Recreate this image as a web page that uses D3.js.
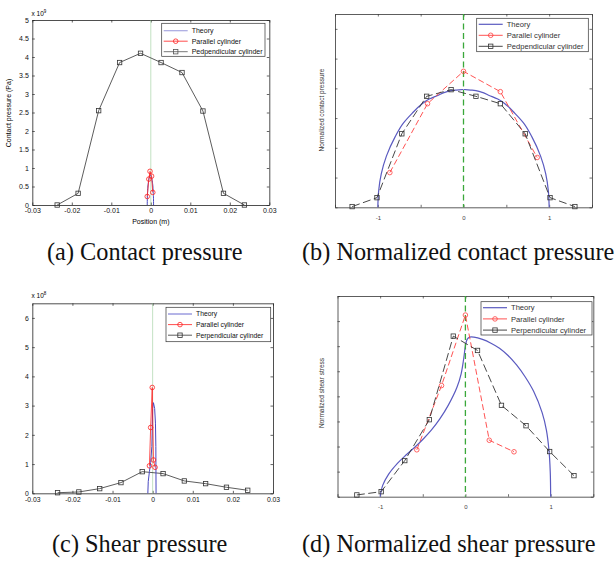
<!DOCTYPE html>
<html>
<head>
<meta charset="utf-8">
<script src="https://cdn.jsdelivr.net/npm/d3@7"></script>
<style>
  body { margin: 0; background: #fff; }
  text { font-family: "Liberation Sans", Arial, sans-serif; }
</style>
</head>
<body>
<svg id="fig" width="615" height="561"></svg>
<script>
/* ---- donnees ---- */
// (a) pression de contact, x en m, y en 1e9 Pa
var posPerp = [-0.0237, -0.0184, -0.0132, -0.0079, -0.0026, 0.0026, 0.0079, 0.0132, 0.0184, 0.0237];
var contactPerp = [0, 0.315, 2.55, 3.85, 4.10, 3.85, 3.58, 2.54, 0.315, 0];
var posPar = [-0.0009, -0.0005, -0.0002, 0.0002, 0.0005];
var contactPar = [0.23, 0.70, 0.91, 0.78, 0.34];
var thPosA = [-0.0009, -0.00088, -0.0008, -0.0006, -0.0004, -0.0001, 0.0002, 0.0004, 0.0006, 0.00068, 0.0007];
var thContactA = [0, 0.17, 0.39, 0.62, 0.74, 0.80, 0.74, 0.62, 0.39, 0.17, 0];

// (b) pression de contact normalisee
var normPerpX = [-1.30, -1.01, -0.72, -0.43, -0.145, 0.145, 0.43, 0.72, 1.01, 1.30];
var normPerpY = [0.006, 0.081, 0.618, 0.933, 0.989, 0.933, 0.871, 0.618, 0.081, 0.006];
var normParX = [-0.86, -0.42, 0, 0.43, 0.86];
var normParY = [0.292, 0.871, 1.143, 0.972, 0.419];
var thNormX = [-1, -0.99, -0.96, -0.9, -0.8, -0.7, -0.6, -0.5, -0.4, -0.3, -0.2, -0.1, 0, 0.1, 0.2, 0.3, 0.4, 0.5, 0.6, 0.7, 0.8, 0.9, 0.96, 0.99, 1];
var thNormY = [0, 0.14, 0.28, 0.43, 0.59, 0.71, 0.79, 0.86, 0.91, 0.94, 0.97, 0.985, 0.99, 0.985, 0.97, 0.94, 0.91, 0.86, 0.79, 0.71, 0.59, 0.43, 0.28, 0.14, 0];

// (c) pression de cisaillement, y en 1e8 Pa
var shearPerp = [0.02, 0.046, 0.16, 0.366, 0.74, 0.674, 0.423, 0.331, 0.206, 0.103];
var posParC = [-0.0008, -0.0005, -0.0001, 0.0002, 0.0006];
var shearPar = [0.94, 2.25, 3.62, 1.14, 0.89];
var thPosC = [-0.0012, -0.0011, -0.0008, -0.0005, -0.0002, 0, 0.0002, 0.0005, 0.0007, 0.0008, 0.00085];
var thShearC = [0, 0.4, 0.75, 1.05, 1.6, 2.9, 3.1, 2.9, 2.4, 1.6, 0];

// (d) cisaillement normalise
var nsPerpX = [-1.273, -0.988, -0.711, -0.423, -0.142, 0.142, 0.423, 0.711, 0.988, 1.273];
var nsPerpY = [0.007, 0.02, 0.144, 0.307, 0.64, 0.583, 0.364, 0.283, 0.18, 0.084];
var nsParX = [-0.57, -0.28, 0, 0.28, 0.57];
var nsParY = [0.187, 0.443, 0.724, 0.225, 0.179];
var thShearX = [-1, -0.97, -0.9, -0.8, -0.7, -0.6, -0.5, -0.4, -0.3, -0.2, -0.1, -0.05, -0.02, 0, 0.02, 0.05, 0.1, 0.2, 0.3, 0.4, 0.5, 0.6, 0.7, 0.8, 0.9, 0.95, 0.98, 0.995, 1];
var thShearY = [0, 0.045, 0.09, 0.132, 0.165, 0.195, 0.228, 0.265, 0.31, 0.365, 0.435, 0.49, 0.55, 0.6, 0.627, 0.636, 0.636, 0.627, 0.612, 0.592, 0.563, 0.525, 0.478, 0.42, 0.335, 0.265, 0.185, 0.1, 0];

// graduations
var posTicks = [-0.03, -0.02, -0.01, 0, 0.01, 0.02, 0.03];
var contactTicks = [0, 0.5, 1, 1.5, 2, 2.5, 3, 3.5, 4, 4.5, 5];
var shearTicks = [0, 1, 2, 3, 4, 5, 6];
var normXTicks = [-1.5, -1, -0.5, 0, 0.5, 1, 1.5];
var normYTicks = [0, 0.25, 0.5, 0.75, 1, 1.25, 1.5];
var nsYTicks = [0, 0.1, 0.2, 0.3, 0.4, 0.5, 0.6, 0.7, 0.8];

var legendA = ["Theory", "Parallel cylinder", "Pedpendicular cylinder"];
var legendC = ["Theory", "Parallel cylinder", "Perpendicular cylinder"];

var svg = d3.select("#fig");

/* cree un cadre d axes facon matlab (graduations vers l interieur sur les 4 cotes) */
function cadre(c) {
    var x = d3.scaleLinear().domain(c.xd).range([c.l, c.r]);
    var y = d3.scaleLinear().domain(c.yd).range([c.b, c.t]);
    var g = svg.append("g");
    var col = c.col || "#222";

    var ax = [
        [d3.axisBottom(x).tickValues(c.xt).tickFormat(c.xf), "translate(0," + c.b + ")"],
        [d3.axisTop(x).tickValues(c.xt).tickFormat(""), "translate(0," + c.t + ")"],
        [d3.axisLeft(y).tickValues(c.yt).tickFormat(c.yf), "translate(" + c.l + ",0)"],
        [d3.axisRight(y).tickValues(c.yt).tickFormat(""), "translate(" + c.r + ",0)"]
    ];
    ax.forEach(function (a) {
        var s = g.append("g").attr("transform", a[1])
            .call(a[0].tickSizeInner(-2.5).tickSizeOuter(0).tickPadding(c.pad || 3));
        s.select(".domain").attr("stroke", col).attr("stroke-width", 0.8);
        s.selectAll("line").attr("stroke", col).attr("stroke-width", 0.7);
        s.selectAll("text").attr("font-size", c.fs).attr("fill", c.tcol || "#111")
            .attr("font-family", "Liberation Sans, Arial, sans-serif");
    });
    return {g: g, x: x, y: y, c: c};
}

function courbe(p, xs, ys, style) {
    var line = d3.line().x(function (d) { return p.x(d[0]); }).y(function (d) { return p.y(d[1]); });
    if (style.curve) line.curve(style.curve);
    p.g.append("path")
        .datum(d3.zip(xs, ys))
        .attr("d", line)
        .attr("fill", "none")
        .attr("stroke", style.color)
        .attr("stroke-width", style.w)
        .attr("stroke-dasharray", style.dash || null);
    if (style.marker) {
        marqueurs(p.g, d3.zip(xs, ys).map(function (d) { return [p.x(d[0]), p.y(d[1])]; }), style);
    }
}

function marqueurs(g, pts, style) {
    if (style.marker === "o") {
        g.selectAll(null).data(pts).enter().append("circle")
            .attr("cx", function (d) { return d[0]; })
            .attr("cy", function (d) { return d[1]; })
            .attr("r", 2.3)
            .attr("fill", "none").attr("stroke", style.color).attr("stroke-width", 0.8);
    } else {
        g.selectAll(null).data(pts).enter().append("rect")
            .attr("x", function (d) { return d[0] - 2.2; })
            .attr("y", function (d) { return d[1] - 2.2; })
            .attr("width", 4.4).attr("height", 4.4)
            .attr("fill", "none").attr("stroke", style.mcolor || style.color).attr("stroke-width", 0.8);
    }
}

function ligneZero(p, style) {
    p.g.append("line")
        .attr("x1", p.x(0)).attr("x2", p.x(0))
        .attr("y1", p.c.t).attr("y2", p.c.b)
        .attr("stroke", style.color).attr("stroke-width", style.w)
        .attr("stroke-dasharray", style.dash || null);
}

function legende(p, box, labels, styles, fs, tcol) {
    var g = p.g.append("g");
    g.append("rect").attr("x", box.x).attr("y", box.y).attr("width", box.w).attr("height", box.h)
        .attr("fill", "#fff").attr("stroke", "#333").attr("stroke-width", 0.7);
    labels.forEach(function (lab, i) {
        var yy = box.y + box.dy0 + i * box.dy;
        var st = styles[i];
        g.append("line").attr("x1", box.x + 2).attr("x2", box.x + 2 + box.lw)
            .attr("y1", yy).attr("y2", yy)
            .attr("stroke", st.lcolor || st.color).attr("stroke-width", st.w)
            .attr("stroke-dasharray", st.ldash || null);
        if (st.marker) marqueurs(g, [[box.x + 2 + box.lw / 2, yy]], st);
        g.append("text").attr("x", box.x + box.lw + 6).attr("y", yy + fs * 0.35)
            .attr("font-size", fs).attr("fill", tcol).text(lab);
    });
}

function fmt(d) { return String(d); }

/* ---------- (a) ---------- */
var pa = cadre({l: 32.3, r: 269.3, t: 20, b: 205, xd: [-0.03, 0.03], yd: [0, 5],
    xt: posTicks, yt: contactTicks, xf: fmt, yf: fmt, fs: 7, pad: 3.5});
ligneZero(pa, {color: "#9c9", w: 0.6});
courbe(pa, posPerp, contactPerp, {color: "#333", w: 0.8, marker: "s"});
courbe(pa, thPosA, thContactA, {color: "#4848c0", w: 1, curve: d3.curveMonotoneX});
courbe(pa, posPar, contactPar, {color: "#ff2020", w: 0.8, marker: "o"});
legende(pa, {x: 161.7, y: 23.3, w: 103.3, h: 33, dy0: 7.4, dy: 10.5, lw: 24}, legendA, [
    {color: "#a8a8e0", w: 1.2},
    {color: "#ff2020", w: 0.8, marker: "o"},
    {color: "#555", w: 0.8, marker: "s"}
], 7, "#111");
pa.g.append("text").attr("x", 11).attr("y", 113).attr("transform", "rotate(-90,11,113)")
    .attr("text-anchor", "middle").attr("font-size", 7).text("Contact pressure (Pa)");
pa.g.append("text").attr("x", 150.8).attr("y", 223.5)
    .attr("text-anchor", "middle").attr("font-size", 7).text("Position (m)");
var ea = pa.g.append("text").attr("x", 31.5).attr("y", 16).attr("font-size", 6.5).text("x 10");
ea.append("tspan").attr("dy", -3).attr("font-size", 4.5).text("9");

/* ---------- (b) ---------- */
var pb = cadre({l: 335, r: 592, t: 14, b: 207.3, xd: [-1.5, 1.5], yd: [0, 1.625],
    xt: normXTicks, yt: normYTicks, pad: 8,
    xf: function (d) { return Number.isInteger(d) ? String(d) : ""; },
    yf: "", fs: 6, col: "#333", tcol: "#444"});
courbe(pb, thNormX, thNormY, {color: "#5a5ac0", w: 1.2, curve: d3.curveMonotoneY});
ligneZero(pb, {color: "#3aa83a", w: 1.3, dash: "6,3.5"});
courbe(pb, normParX, normParY, {color: "#ff4040", w: 0.9, dash: "6,3", marker: "o"});
courbe(pb, normPerpX, normPerpY, {color: "#333", w: 0.9, dash: "8,3.5", marker: "s"});
legende(pb, {x: 476.7, y: 18.3, w: 111.6, h: 33.4, dy0: 6, dy: 11, lw: 24}, legendA, [
    {color: "#5a5ac0", w: 1.2},
    {color: "#ff4040", w: 0.9, marker: "o"},
    {color: "#333", w: 0.9, marker: "s"}
], 7.6, "#333");
pb.g.append("text").attr("x", 324).attr("y", 110).attr("transform", "rotate(-90,324,110)")
    .attr("text-anchor", "middle").attr("font-size", 6.5).attr("fill", "#333").text("Normalized contact pressure");

/* ---------- (c) ---------- */
var pc = cadre({l: 32.3, r: 273, t: 303.3, b: 493.3, xd: [-0.03, 0.03], yd: [0, 6.5],
    xt: posTicks, yt: shearTicks, xf: fmt, yf: fmt, fs: 6.8, pad: 3.5});
ligneZero(pc, {color: "#9c9", w: 0.6});
courbe(pc, posPerp, shearPerp, {color: "#333", w: 0.8, marker: "s"});
courbe(pc, thPosC, thShearC, {color: "#4848c0", w: 1});
courbe(pc, posParC, shearPar, {color: "#ff2020", w: 0.8, marker: "o"});
legende(pc, {x: 166, y: 307.3, w: 104.7, h: 34.4, dy0: 6.7, dy: 10.6, lw: 24}, legendC, [
    {color: "#6a6ad0", w: 1},
    {color: "#ff2020", w: 0.8, marker: "o"},
    {color: "#333", w: 0.8, marker: "s"}
], 6.8, "#111");
var ec = pc.g.append("text").attr("x", 31.5).attr("y", 298).attr("font-size", 6.5).text("x 10");
ec.append("tspan").attr("dy", -3).attr("font-size", 4.5).text("8");

/* ---------- (d) ---------- */
var pd = cadre({l: 337.5, r: 593.3, t: 296, b: 496.7, xd: [-1.5, 1.5], yd: [0, 0.8],
    xt: normXTicks, yt: nsYTicks, pad: 8,
    xf: function (d) { return Number.isInteger(d) ? String(d) : ""; },
    yf: "", fs: 6, col: "#333", tcol: "#444"});
courbe(pd, thShearX, thShearY, {color: "#5a5ac0", w: 1.2, curve: d3.curveCatmullRom.alpha(0.5)});
ligneZero(pd, {color: "#3aa83a", w: 1.3, dash: "6,3.5"});
courbe(pd, nsParX, nsParY, {color: "#ff4040", w: 0.9, dash: "6,3", marker: "o"});
courbe(pd, nsPerpX, nsPerpY, {color: "#333", w: 0.9, dash: "8,3.5", marker: "s"});
legende(pd, {x: 481, y: 301.7, w: 111, h: 33.3, dy0: 6, dy: 11.2, lw: 24}, legendC, [
    {color: "#5a5ac0", w: 1.2},
    {color: "#ff4040", w: 0.9, marker: "o"},
    {color: "#333", w: 0.9, marker: "s"}
], 7.6, "#333");
pd.g.append("text").attr("x", 324).attr("y", 393).attr("transform", "rotate(-90,324,393)")
    .attr("text-anchor", "middle").attr("font-size", 6.5).attr("fill", "#333").text("Normalized shear stress");

/* ---------- legendes du bas ---------- */
var captions = [
    ["(a) Contact pressure", 47, 260],
    ["(b) Normalized contact pressure", 302, 260],
    ["(c) Shear pressure", 52, 552],
    ["(d) Normalized shear pressure", 302, 552]
];
svg.selectAll(".cap").data(captions).enter().append("text")
    .attr("class", "cap")
    .attr("x", function (d) { return d[1]; })
    .attr("y", function (d) { return d[2]; })
    .style("font-family", "'Liberation Serif', 'Times New Roman', serif")
    .attr("font-size", 24.3)
    .attr("fill", "#111")
    .text(function (d) { return d[0]; });
</script>
</body>
</html>
